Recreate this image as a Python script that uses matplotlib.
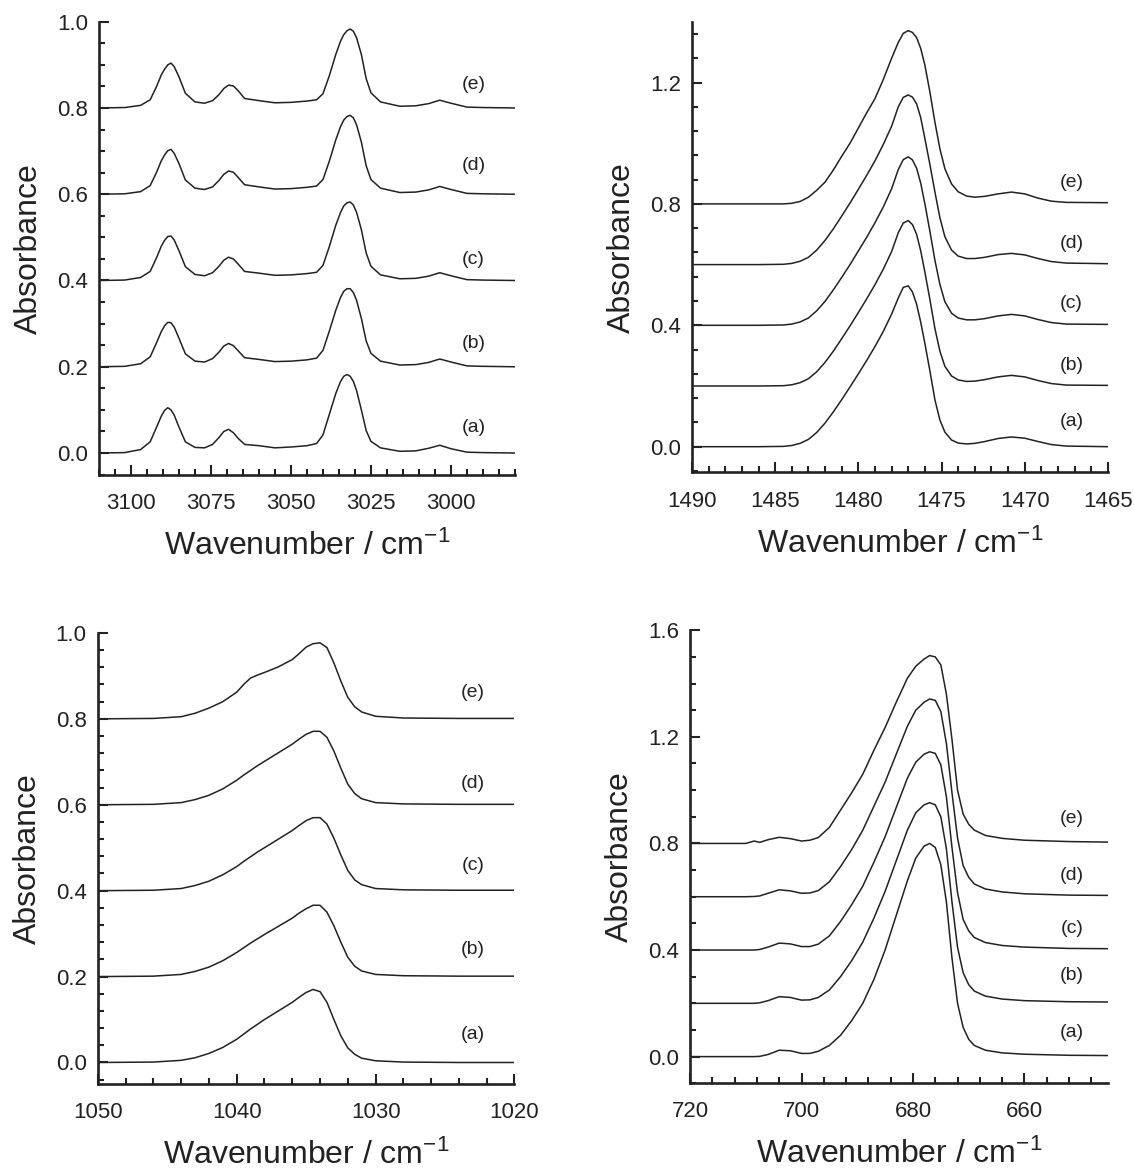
import matplotlib
matplotlib.use("Agg")
import numpy as np
import matplotlib.pyplot as plt
from matplotlib.ticker import MultipleLocator, FormatStrFormatter


OUTPUT_FILE = "out.png"

INK = "#222222"

LABELS = ["(a)", "(b)", "(c)", "(d)", "(e)"]
OFFSETS = [0.0, 0.2, 0.4, 0.6, 0.8]

# C-H stretching region (absorbance above each trace's own baseline)
CH_X = [3110, 3102, 3097, 3094, 3092, 3090.5, 3089.5, 3088.5, 3087.5, 3086.5,
        3085, 3083, 3080, 3077, 3074.5, 3072.5, 3071, 3069.5, 3068, 3066.5,
        3064.5, 3060, 3055, 3050, 3045, 3042, 3040, 3038, 3036, 3034.5,
        3033.5, 3032.5, 3031.5, 3030.5, 3029.5, 3028, 3026.5, 3025, 3022, 3016,
        3011, 3007, 3003.5, 3000, 2995, 2990, 2980]
CH_A = [0, 0.001, 0.008, 0.026, 0.06, 0.086, 0.099, 0.105, 0.1, 0.088,
        0.06, 0.026, 0.013, 0.012, 0.02, 0.036, 0.05, 0.055, 0.047, 0.034,
        0.02, 0.017, 0.012, 0.014, 0.017, 0.022, 0.042, 0.09, 0.138, 0.166,
        0.178, 0.182, 0.178, 0.166, 0.145, 0.1, 0.052, 0.027, 0.012, 0.004,
        0.005, 0.011, 0.018, 0.01, 0.002, 0.001, 0]
CH_B = [0, 0.001, 0.007, 0.023, 0.056, 0.082, 0.095, 0.103, 0.102, 0.092,
        0.066, 0.03, 0.013, 0.011, 0.019, 0.034, 0.048, 0.054, 0.049, 0.037,
        0.021, 0.017, 0.012, 0.013, 0.016, 0.02, 0.038, 0.083, 0.131, 0.161,
        0.175, 0.181, 0.181, 0.172, 0.154, 0.112, 0.06, 0.031, 0.013, 0.004,
        0.005, 0.01, 0.018, 0.011, 0.002, 0.001, 0]
CH_C = [0, 0.001, 0.007, 0.021, 0.053, 0.08, 0.093, 0.102, 0.103, 0.094,
        0.069, 0.032, 0.014, 0.011, 0.018, 0.033, 0.047, 0.054, 0.05, 0.038,
        0.021, 0.017, 0.012, 0.013, 0.016, 0.019, 0.035, 0.079, 0.128, 0.158,
        0.173, 0.18, 0.182, 0.175, 0.158, 0.118, 0.064, 0.033, 0.013, 0.004,
        0.005, 0.01, 0.018, 0.011, 0.002, 0.001, 0]
CH_D = [0, 0.001, 0.006, 0.02, 0.051, 0.078, 0.091, 0.101, 0.104, 0.095,
        0.071, 0.033, 0.014, 0.011, 0.017, 0.032, 0.046, 0.054, 0.051, 0.039,
        0.022, 0.017, 0.012, 0.013, 0.016, 0.019, 0.034, 0.077, 0.126, 0.157,
        0.172, 0.18, 0.183, 0.177, 0.161, 0.121, 0.066, 0.034, 0.014, 0.004,
        0.005, 0.01, 0.018, 0.011, 0.002, 0.001, 0]
CH_E = [0, 0.001, 0.006, 0.019, 0.05, 0.077, 0.09, 0.1, 0.104, 0.096,
        0.072, 0.034, 0.014, 0.011, 0.017, 0.031, 0.045, 0.053, 0.051, 0.04,
        0.022, 0.017, 0.012, 0.013, 0.016, 0.019, 0.033, 0.075, 0.124, 0.155,
        0.17, 0.179, 0.183, 0.178, 0.163, 0.124, 0.068, 0.035, 0.014, 0.004,
        0.005, 0.01, 0.018, 0.011, 0.002, 0.001, 0]
CH_LABEL_X = 2993
CH_LABEL_Y = [0.06, 0.253, 0.448, 0.667, 0.855]

# CH2 bending region
BEND_X = [1490, 1486, 1484.5, 1484, 1483.5, 1483, 1482.5, 1482, 1481.5, 1481,
          1480.5, 1480, 1479.5, 1479, 1478.5, 1478, 1477.6, 1477.3, 1477,
          1476.75, 1476.5, 1476.25, 1476, 1475.7, 1475.4, 1475.1, 1474.8,
          1474.4, 1474, 1473.5, 1473, 1472.4, 1471.6, 1470.8, 1470, 1469.2,
          1468.4, 1467.5, 1465]
BEND_A = [0, 0, 0.001, 0.004, 0.011, 0.024, 0.047, 0.078, 0.115, 0.155,
          0.197, 0.24, 0.284, 0.33, 0.38, 0.437, 0.49, 0.525, 0.53,
          0.51, 0.47, 0.41, 0.34, 0.25, 0.155, 0.088, 0.048,
          0.022, 0.012, 0.009, 0.011, 0.017, 0.027, 0.032, 0.028, 0.017,
          0.007, 0.002, 0.0]
BEND_B = [0, 0, 0.001, 0.004, 0.011, 0.024, 0.047, 0.078, 0.115, 0.156,
          0.198, 0.242, 0.287, 0.334, 0.385, 0.443, 0.505, 0.537, 0.545,
          0.532, 0.5, 0.445, 0.375, 0.285, 0.19, 0.115, 0.065,
          0.033, 0.02, 0.015, 0.016, 0.021, 0.03, 0.035, 0.03, 0.018,
          0.008, 0.003, 0.002]
BEND_C = [0, 0, 0.001, 0.004, 0.011, 0.024, 0.048, 0.079, 0.117, 0.158,
          0.2, 0.245, 0.29, 0.338, 0.39, 0.45, 0.513, 0.546, 0.555,
          0.545, 0.518, 0.468, 0.4, 0.31, 0.215, 0.135, 0.078,
          0.04, 0.024, 0.018, 0.018, 0.022, 0.031, 0.036, 0.031, 0.019,
          0.009, 0.004, 0.003]
BEND_D = [0, 0, 0.001, 0.004, 0.011, 0.024, 0.048, 0.08, 0.118, 0.16,
          0.203, 0.248, 0.294, 0.342, 0.396, 0.456, 0.52, 0.551, 0.559,
          0.552, 0.53, 0.484, 0.415, 0.33, 0.24, 0.155, 0.092,
          0.048, 0.028, 0.02, 0.02, 0.024, 0.033, 0.037, 0.032, 0.02,
          0.01, 0.005, 0.003]
BEND_E = [0, 0, 0.0, 0.002, 0.008, 0.022, 0.045, 0.072, 0.112, 0.157,
          0.2, 0.25, 0.3, 0.347, 0.41, 0.48, 0.532, 0.562, 0.571,
          0.565, 0.548, 0.512, 0.457, 0.369, 0.27, 0.182, 0.116,
          0.066, 0.04, 0.026, 0.022, 0.025, 0.033, 0.039, 0.033, 0.019,
          0.009, 0.005, 0.004]
BEND_LABEL_X = 1467.2
BEND_LABEL_Y = [0.083, 0.268, 0.472, 0.668, 0.871]

# 1030 cm-1 region
MID_X = [1050, 1046, 1044, 1043, 1042, 1041, 1040, 1039.5, 1039, 1038.5,
         1038, 1037, 1036, 1035.5, 1035, 1034.5, 1034, 1033.5, 1033, 1032.5,
         1032, 1031.5, 1031, 1030, 1028, 1024, 1020]
MID_A = [0, 0.001, 0.005, 0.011, 0.021, 0.035, 0.054, 0.066, 0.078, 0.089,
         0.1, 0.12, 0.14, 0.152, 0.163, 0.17, 0.165, 0.14, 0.1, 0.062,
         0.034, 0.019, 0.01, 0.004, 0.001, 0, 0]
MID_B = [0, 0.001, 0.005, 0.012, 0.022, 0.037, 0.056, 0.067, 0.078, 0.088,
         0.098, 0.117, 0.136, 0.148, 0.158, 0.166, 0.166, 0.15, 0.118, 0.08,
         0.045, 0.024, 0.013, 0.005, 0.002, 0.001, 0.001]
MID_C = [0, 0.001, 0.005, 0.012, 0.022, 0.037, 0.056, 0.068, 0.079, 0.09,
         0.1, 0.12, 0.14, 0.152, 0.163, 0.17, 0.17, 0.155, 0.122, 0.083,
         0.047, 0.025, 0.014, 0.005, 0.002, 0.001, 0.001]
MID_D = [0, 0.001, 0.005, 0.012, 0.022, 0.037, 0.057, 0.069, 0.08, 0.091,
         0.101, 0.121, 0.141, 0.153, 0.164, 0.171, 0.171, 0.157, 0.125, 0.085,
         0.048, 0.026, 0.014, 0.005, 0.002, 0.001, 0.001]
MID_E = [0, 0.001, 0.005, 0.013, 0.025, 0.04, 0.062, 0.08, 0.095, 0.102,
         0.108, 0.121, 0.138, 0.152, 0.167, 0.175, 0.177, 0.166, 0.13, 0.088,
         0.05, 0.028, 0.016, 0.006, 0.002, 0.001, 0.001]
MID_LABEL_X = 1023
MID_LABEL_Y = [0.066, 0.264, 0.458, 0.65, 0.862]

# 680 cm-1 region
LOW_X = [720, 710, 708.5, 707.5, 706, 704, 702, 700, 698.5, 697,
         695, 693, 691, 689, 687, 685, 683, 681, 679.5, 678,
         677, 676, 675, 674, 673, 672, 671, 670, 669, 667,
         664, 660, 652, 645]
LOW_A = [0, 0, 0, 0.001, 0.008, 0.024, 0.022, 0.012, 0.012, 0.02,
         0.042, 0.08, 0.135, 0.2, 0.29, 0.4, 0.53, 0.66, 0.745, 0.79,
         0.8, 0.785, 0.72, 0.58, 0.37, 0.2, 0.11, 0.065, 0.042, 0.024,
         0.014, 0.009, 0.005, 0.004]
LOW_B = [0, 0, 0, 0.002, 0.01, 0.025, 0.022, 0.012, 0.013, 0.022,
         0.05, 0.1, 0.16, 0.23, 0.32, 0.42, 0.535, 0.65, 0.715, 0.745,
         0.753, 0.745, 0.7, 0.58, 0.38, 0.21, 0.115, 0.07, 0.046, 0.027,
         0.016, 0.01, 0.006, 0.005]
LOW_C = [0, 0, 0, 0.002, 0.011, 0.026, 0.023, 0.013, 0.013, 0.022,
         0.053, 0.107, 0.17, 0.24, 0.33, 0.425, 0.535, 0.645, 0.705, 0.735,
         0.744, 0.738, 0.695, 0.575, 0.385, 0.215, 0.115, 0.072, 0.047, 0.028,
         0.017, 0.011, 0.006, 0.005]
LOW_D = [0, 0, 0.001, 0.003, 0.013, 0.026, 0.022, 0.013, 0.014, 0.023,
         0.056, 0.113, 0.177, 0.25, 0.34, 0.43, 0.535, 0.64, 0.7, 0.73,
         0.742, 0.737, 0.695, 0.575, 0.39, 0.22, 0.117, 0.073, 0.048, 0.029,
         0.018, 0.011, 0.006, 0.005]
LOW_E = [0, 0, 0.009, 0.004, 0.014, 0.023, 0.018, 0.009, 0.012, 0.022,
         0.06, 0.125, 0.19, 0.26, 0.35, 0.435, 0.53, 0.62, 0.665, 0.692,
         0.705, 0.7, 0.67, 0.56, 0.39, 0.2, 0.11, 0.072, 0.05, 0.03,
         0.019, 0.012, 0.007, 0.005]
LOW_LABEL_X = 651.5
LOW_LABEL_Y = [0.091, 0.306, 0.481, 0.681, 0.894]


def style_axes(ax, xlim, ylim, x_major, x_minor, y_major, y_minor):
    """
    Apply the Origin-like look: left/bottom spines, inward ticks.
    """

    ax.set_xlim(*xlim)
    ax.set_ylim(*ylim)

    ax.spines["top"].set_visible(False)
    ax.spines["right"].set_visible(False)
    for side in ["left", "bottom"]:
        ax.spines[side].set_linewidth(1.9)
        ax.spines[side].set_color(INK)

    ax.xaxis.set_major_locator(MultipleLocator(x_major))
    ax.xaxis.set_minor_locator(MultipleLocator(x_minor))
    ax.yaxis.set_major_locator(MultipleLocator(y_major))
    ax.yaxis.set_minor_locator(MultipleLocator(y_minor))

    ax.xaxis.set_major_formatter(FormatStrFormatter("%d"))
    ax.yaxis.set_major_formatter(FormatStrFormatter("%.1f"))

    ax.tick_params(
        which="major", direction="in", length=7, width=1.5,
        color=INK, labelsize=16, labelcolor=INK
    )
    ax.tick_params(which="minor", direction="in", length=4.5, width=1.5, color=INK)
    ax.tick_params(axis="x", which="major", pad=13)
    ax.tick_params(axis="y", which="major", pad=8)

    ax.set_xlabel("Wavenumber / cm$^{-1}$", fontsize=23, color=INK, labelpad=12)
    ax.set_ylabel("Absorbance", fontsize=23, color=INK, labelpad=9)


def draw_panel(ax, x, curves, label_x, label_y):
    """
    Draw the five stacked spectra and their (a)-(e) tags.
    """

    for curve, offset, tag, tag_y in zip(curves, OFFSETS, LABELS, label_y):
        ax.plot(x, np.array(curve) + offset, color=INK, linewidth=1.1)
        ax.text(label_x, tag_y, tag, fontsize=14, color=INK,
                ha="center", va="center")


def main():
    """
    Build the 2x2 spectra figure.
    """

    plt.rcParams["font.family"] = ["Liberation Sans", "DejaVu Sans"]
    plt.rcParams["mathtext.default"] = "regular"

    fig = plt.figure(figsize=(11.34, 11.73), dpi=100)

    ax_ch = fig.add_axes([0.0873, 0.5954, 0.3668, 0.3861])
    ax_bend = fig.add_axes([0.6102, 0.5972, 0.3668, 0.3842])
    ax_mid = fig.add_axes([0.0862, 0.0759, 0.3675, 0.3845])
    ax_low = fig.add_axes([0.6085, 0.0765, 0.3686, 0.3862])

    draw_panel(ax_ch, CH_X, [CH_A, CH_B, CH_C, CH_D, CH_E], CH_LABEL_X, CH_LABEL_Y)
    style_axes(ax_ch, (3110, 2980), (-0.05, 1.0), 25, 5, 0.2, 0.05)

    draw_panel(ax_bend, BEND_X, [BEND_A, BEND_B, BEND_C, BEND_D, BEND_E],
               BEND_LABEL_X, BEND_LABEL_Y)
    style_axes(ax_bend, (1490, 1465), (-0.085, 1.4), 5, 1, 0.4, 0.08)

    draw_panel(ax_mid, MID_X, [MID_A, MID_B, MID_C, MID_D, MID_E],
               MID_LABEL_X, MID_LABEL_Y)
    style_axes(ax_mid, (1050, 1020), (-0.05, 1.0), 10, 2, 0.2, 0.04)

    draw_panel(ax_low, LOW_X, [LOW_A, LOW_B, LOW_C, LOW_D, LOW_E],
               LOW_LABEL_X, LOW_LABEL_Y)
    style_axes(ax_low, (720, 645), (-0.1, 1.6), 20, 4, 0.4, 0.1)

    fig.savefig(OUTPUT_FILE, dpi=100)
    plt.close(fig)


if __name__ == "__main__":
    main()
